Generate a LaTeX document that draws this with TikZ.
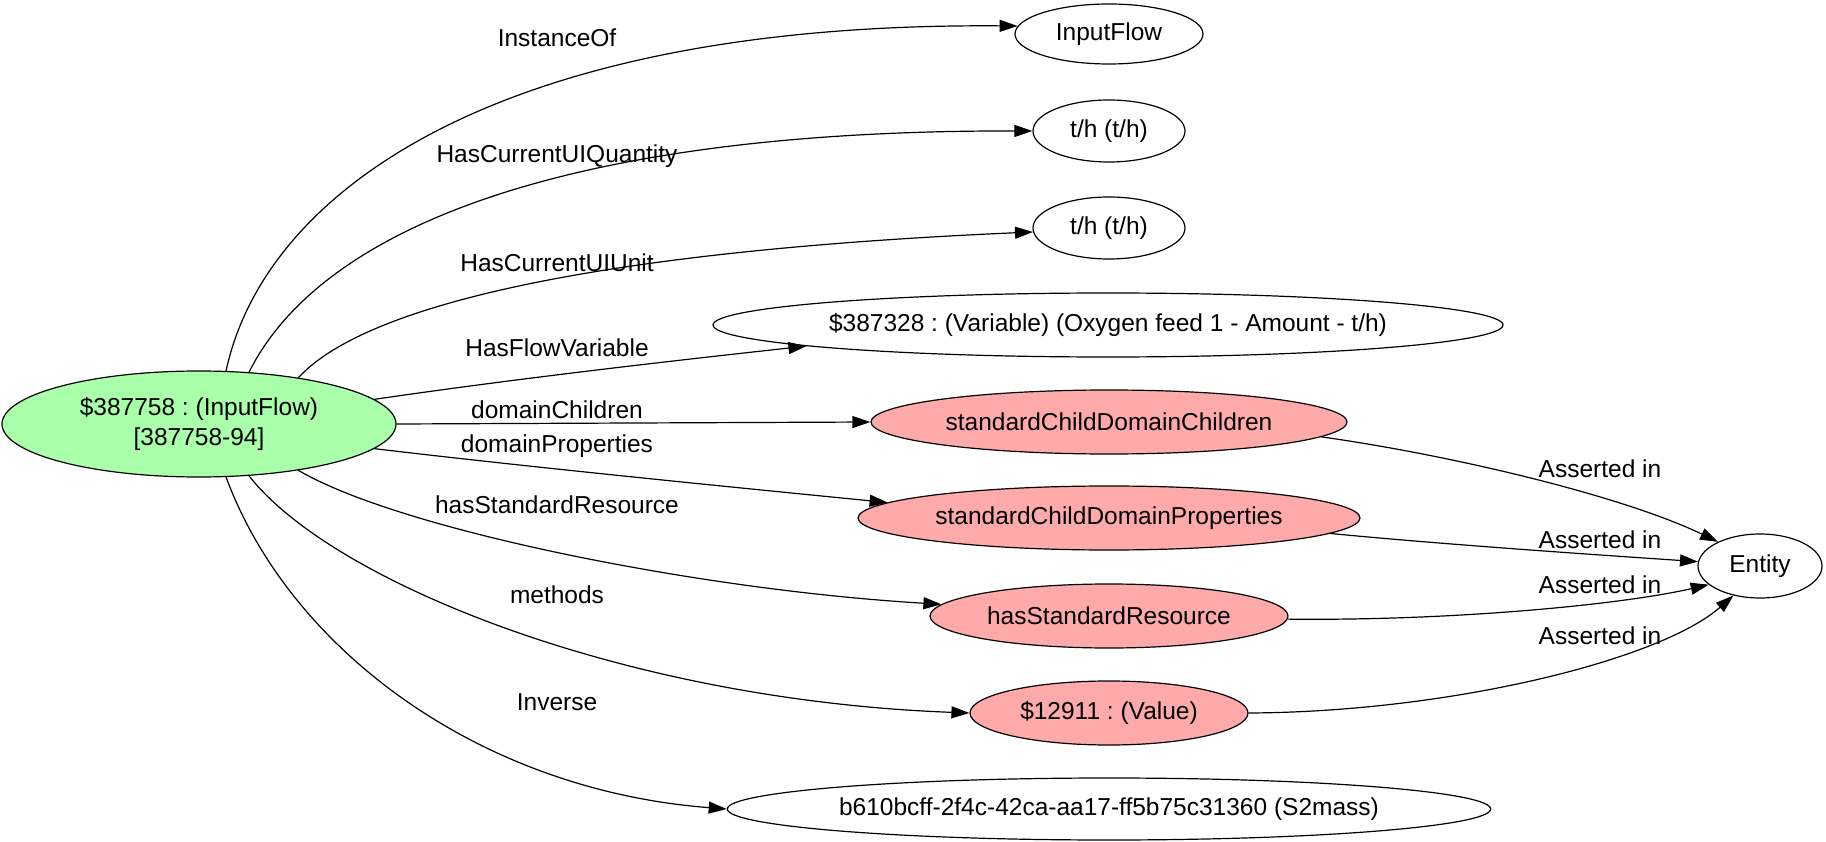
\documentclass[tikz,border=0pt]{standalone}
\usepackage{fontspec}
\setmainfont{Liberation Sans}
\usetikzlibrary{shapes.geometric,arrows.meta}
\definecolor{nodegreen}{RGB}{170,255,170}
\definecolor{nodepink}{RGB}{255,170,170}
\frenchspacing

\begin{document}
\begin{tikzpicture}[x=1pt,y=-1pt,
  every node/.style={font=\fontsize{24.5}{30}\selectfont},
  oval/.style n args={2}{ellipse, draw, line width=1.2pt, inner sep=0pt,
    align=center, minimum width=#1, minimum height=#2},
  rel/.style={line width=1.2pt, -{Triangle[length=18pt,width=12pt]}},
  lbl/.style={inner sep=0pt}
]
\useasboundingbox (0,0) rectangle (1826,842);

% source instance
\node[oval={394pt}{106pt}, fill=nodegreen] (main) at (199,424)
  {\$387758 : (InputFlow)\\{}{[387758-94]}};

% related nodes
\node[oval={188pt}{60pt}]  (ifl)  at (1109,34)  {InputFlow};
\node[oval={152pt}{62pt}]  (th1)  at (1109,131) {t/h (t/h)};
\node[oval={152pt}{62pt}]  (th2)  at (1109,228) {t/h (t/h)};
\node[oval={790pt}{64pt}]  (var)  at (1108,325) {\$387328 : (Variable) (Oxygen feed 1 - Amount - t/h)};
\node[oval={476pt}{64pt}, fill=nodepink] (scdc) at (1109,422) {standardChildDomainChildren};
\node[oval={502pt}{64pt}, fill=nodepink] (scdp) at (1109,518) {standardChildDomainProperties};
\node[oval={358pt}{64pt}, fill=nodepink] (hsr)  at (1109,616) {hasStandardResource};
\node[oval={278pt}{64pt}, fill=nodepink] (val)  at (1109,713) {\$12911 : (Value)};
\node[oval={760pt}{62pt}]  (inv)  at (1109,809) {b610bcff-2f4c-42ca-aa17-ff5b75c31360 (S2mass)};
\node[oval={124pt}{64pt}]  (ent)  at (1760,566) {Entity};

% relations of the instance
\draw[rel] (main.63) .. controls (265,190) and (500,22) .. (ifl.175);
\draw[rel] (main.46) .. controls (320,230) and (560,130) .. (th1.west);
\draw[rel] (main.25) .. controls (370,300) and (620,250) .. (th2.183);
\draw[rel] (main.8.6) .. controls (520,378) and (680,360) .. (var.184);
\draw[rel] (main.east) -- (scdc.west);
\draw[rel] (main.-8.6) .. controls (520,466) and (720,486) .. (scdp.176);
\draw[rel] (main.-25) .. controls (400,530) and (700,590) .. (hsr.176);
\draw[rel] (main.-46) .. controls (330,580) and (620,700) .. (val.west);
\draw[rel] (main.-63) .. controls (290,650) and (480,790) .. (inv.west);

% assertions
\draw[rel] (scdc.-4) .. controls (1450,455) and (1620,495) .. (ent.150);
\draw[rel] (scdp.-4) .. controls (1450,545) and (1600,555) .. (ent.176);
\draw[rel] (hsr.-1) .. controls (1450,621) and (1620,605) .. (ent.200);
\draw[rel] (val.east) .. controls (1450,712) and (1660,660) .. (ent.228);

% relation labels
\node[lbl] (lio)  at (557,38)  {InstanceOf};
\node[lbl] (lq)   at (557,156) {HasCurrentUIQuantity};
\node[lbl] (lu)   at (557,263) {HasCurrentUIUnit};
\node[lbl] (lfv)  at (557,348) {HasFlowVariable};
\node[lbl] (ldc)  at (557,410) {domainChildren};
\node[lbl] (ldp)  at (557,446) {domainProperties};
\node[lbl] (lsr)  at (557,505) {hasStandardResource};
\node[lbl] (lm)   at (557,595) {methods};
\node[lbl] (linv) at (557,702) {Inverse};
\node[lbl] (la1)  at (1600,469) {Asserted in};
\node[lbl] (la2)  at (1600,540) {Asserted in};
\node[lbl] (la3)  at (1600,585) {Asserted in};
\node[lbl] (la4)  at (1600,636) {Asserted in};
\end{tikzpicture}
\end{document}
